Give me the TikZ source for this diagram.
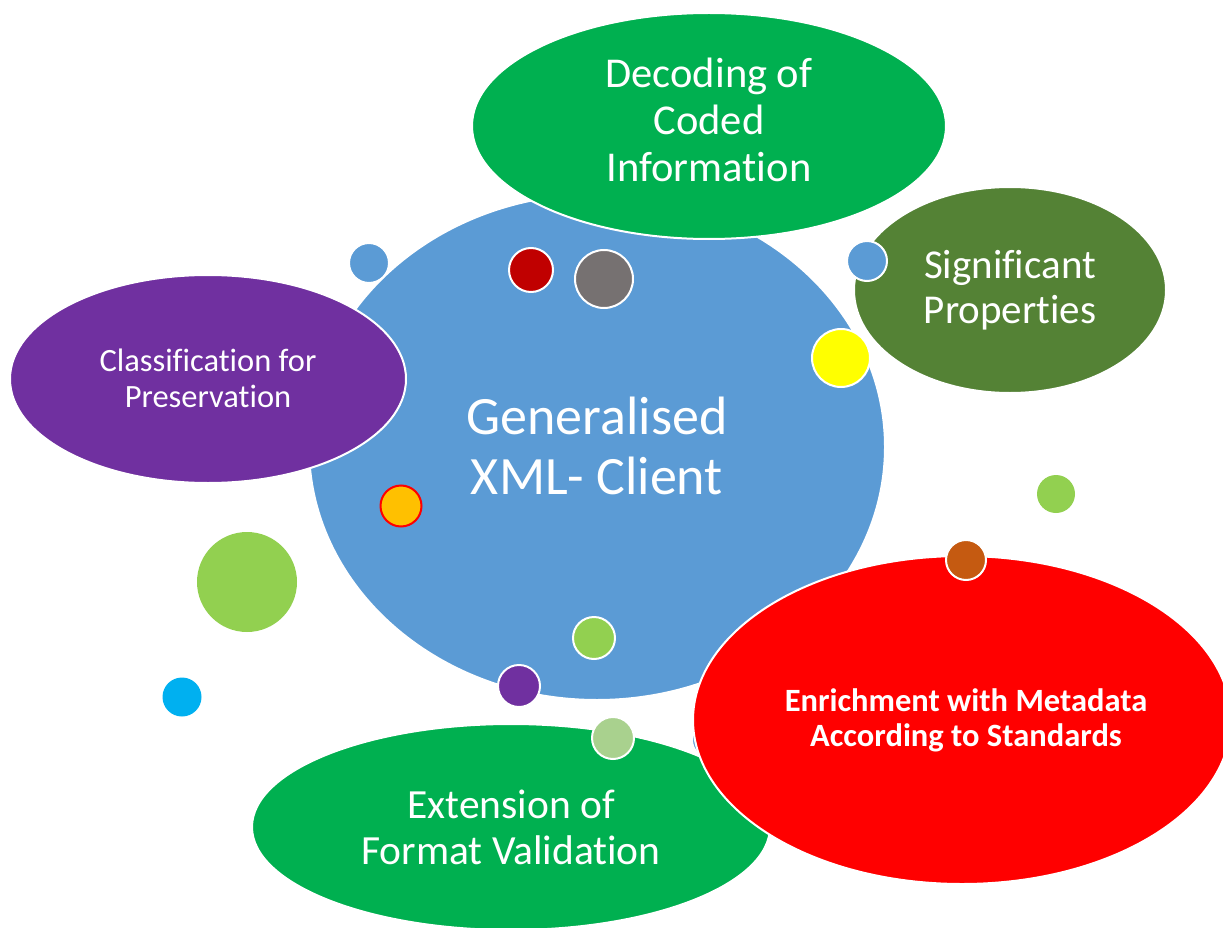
\documentclass[tikz,border=0pt]{standalone}
\usepackage{fontspec}
\setmainfont{Carlito}[Ligatures=NoCommon]
\usetikzlibrary{shapes.geometric}
\definecolor{cblue}{HTML}{5B9BD5}
\definecolor{cgreen}{HTML}{00B050}
\definecolor{cdgreen}{HTML}{548235}
\definecolor{cpurple}{HTML}{7030A0}
\definecolor{cred}{HTML}{FF0000}
\definecolor{cdred}{HTML}{C00000}
\definecolor{cgray}{HTML}{767171}
\definecolor{cyellow}{HTML}{FFFF00}
\definecolor{cgold}{HTML}{FFC000}
\definecolor{clgreen}{HTML}{92D050}
\definecolor{cbrown}{HTML}{C55A11}
\definecolor{ccyan}{HTML}{00B0F0}
\definecolor{cpgreen}{HTML}{A9D18E}
\tikzset{
  bubble/.style={ellipse, draw=white, line width=2pt, inner sep=0pt, text=white, align=center},
  dot/.style={circle, draw=white, line width=2pt, inner sep=0pt, minimum size=#1},
  plaindot/.style={circle, inner sep=0pt, minimum size=#1},
}
\newcommand{\fs}[2]{\fontsize{#1}{#2}\selectfont}
\begin{document}
\begin{tikzpicture}[x=1pt,y=-1pt]
\useasboundingbox (0,0) rectangle (1223,928);
% hidden blue dot behind red
\node[dot=36pt, fill=cblue] (d14) at (710,740) {};
% main
\node[bubble, fill=cblue, minimum width=576pt, minimum height=506pt] (main) at (597,447) {};
\node[text=white, align=center, font=\fs{54}{60}] (maint) at (597,446) {Generalised\\XML- Client};
\node[bubble, fill=cgreen, minimum width=474pt, minimum height=226pt] (dec) at (709,126) {};
\node[text=white, align=center, font=\fs{42.5}{47}] (dect) at (709,120) {Decoding of\\Coded\\Information};
\node[bubble, fill=cdgreen, minimum width=312pt, minimum height=206pt] (sig) at (1010,290) {};
\node[text=white, align=center, font=\fs{41}{45}] (sigt) at (1010,290) {Significant\\Properties};
\node[bubble, fill=cpurple, minimum width=396pt, minimum height=208pt] (cls) at (208,379) {};
\node[text=white, align=center, font=\fs{32.5}{36}] (clst) at (208,378) {Classification for\\Preservation};
\node[bubble, fill=cgreen, minimum width=518pt, minimum height=206pt] (ext) at (511,827) {};
\node[text=white, align=center, font=\fs{41.5}{46}] (extt) at (511,827) {Extension of\\Format Validation};
\node[bubble, fill=cred, minimum width=538pt, minimum height=328pt] (enr) at (962,720) {};
\node[text=white, align=center, font=\bfseries\fs{32.5}{35}] (enrt) at (966,720) {Enrichment with Metadata\\According to Standards};
% small dots
\node[dot=40pt, fill=cblue] (d1) at (369,263) {};
\node[dot=44pt, fill=cdred] (d2) at (531,270) {};
\node[dot=58pt, fill=cgray] (d3) at (604,279) {};
\node[dot=40pt, fill=cblue] (d4) at (867,261) {};
\node[dot=58pt, fill=cyellow] (d5) at (841,358) {};
\node[circle, draw=cred, line width=2pt, fill=cgold, inner sep=0pt, minimum size=41pt] (d6) at (401,506) {};
\node[plaindot=38pt, fill=clgreen] (d7) at (1056,494) {};
\node[dot=40pt, fill=cbrown] (d8) at (966,560) {};
\node[plaindot=100pt, fill=clgreen] (d9) at (247,582) {};
\node[plaindot=39pt, fill=ccyan] (d10) at (182,697) {};
\node[dot=42pt, fill=clgreen] (d11) at (594,638) {};
\node[dot=42pt, fill=cpurple] (d12) at (519,686) {};
\node[dot=42pt, fill=cpgreen] (d13) at (613,738) {};
\end{tikzpicture}
\end{document}
